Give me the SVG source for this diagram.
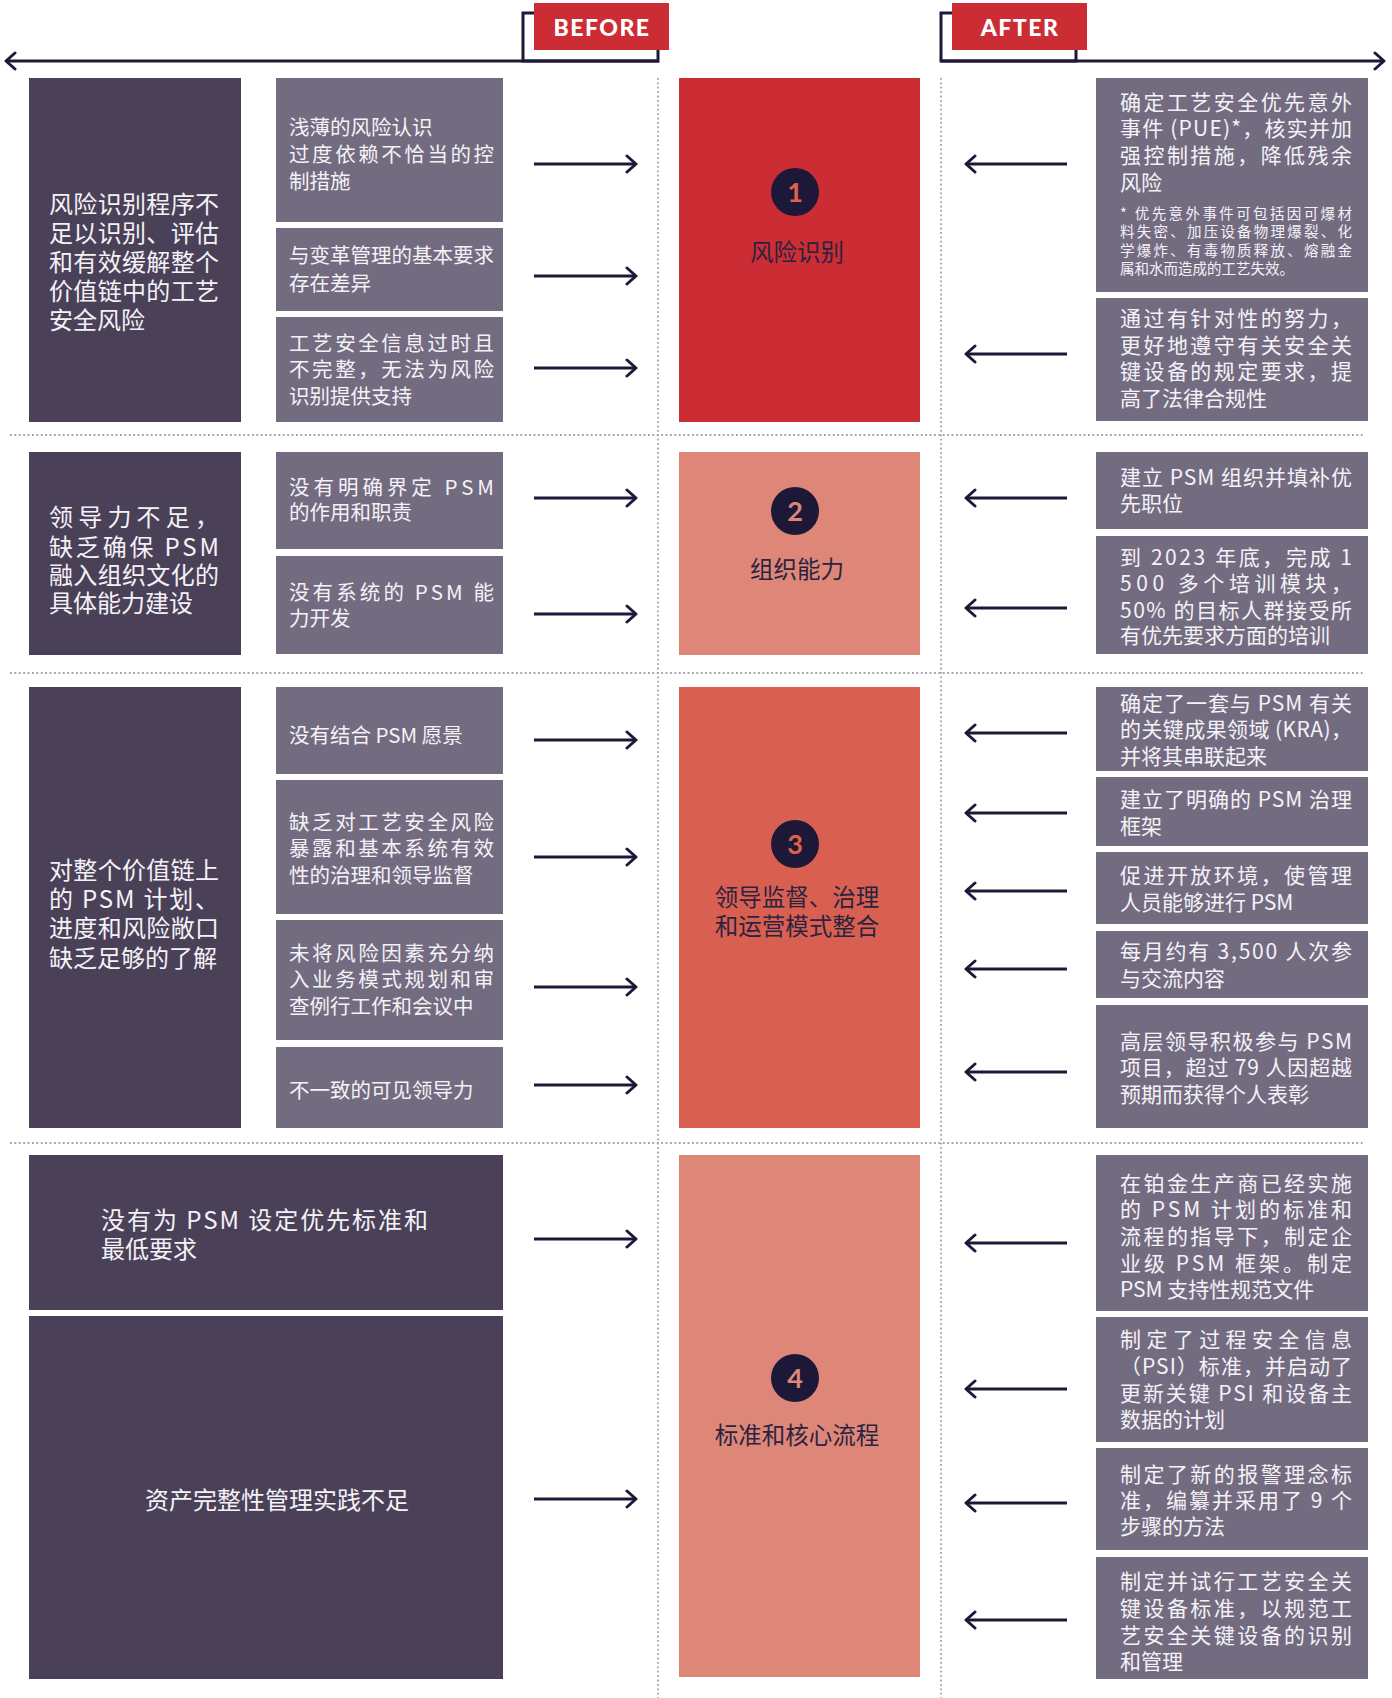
<svg xmlns="http://www.w3.org/2000/svg" width="1392" height="1698" viewBox="0 0 1392 1698">
<style>
text{font-family:"Noto Sans CJK SC","Noto Sans",sans-serif;}
.dark{fill:#4a4159;}
.gray{fill:#736c81;}
.wt{fill:#f4f2f6;}
.lt{font-size:24px;}
.mt{font-size:20.5px;}
.rt{font-size:21px;}
.ft{font-size:14.5px;}
.lbl{font-size:23.5px;fill:#2a2340;text-anchor:middle;}
.num{font-family:Lato,"Liberation Sans",sans-serif;font-weight:700;font-size:27px;text-anchor:middle;}
.tag{font-family:Lato,"Liberation Sans",sans-serif;font-weight:900;font-size:23px;fill:#ffffff;text-anchor:middle;letter-spacing:1.5px;}
.dot{stroke:#a3a3a8;stroke-width:1.8;stroke-dasharray:1.8 2.6;fill:none;}
.arr{stroke:#1e1838;stroke-width:3;fill:none;marker-end:url(#ah);}
.frame{stroke:#1e1838;stroke-width:3;fill:none;}
</style>
<defs>
<marker id="ah" markerUnits="userSpaceOnUse" markerWidth="20" markerHeight="20" viewBox="-12 -10 14 20" refX="0" refY="0" orient="auto">
<path d="M-9,-8 L0,0 L-9,8" stroke="#1e1838" stroke-width="3" fill="none" stroke-linecap="round" stroke-linejoin="round"/>
</marker>
</defs>
<rect width="1392" height="1698" fill="#ffffff"/>

<!-- header -->
<g id="before-tag">
<line class="arr" x1="659" y1="61" x2="6" y2="61"/>
<rect class="frame" x="523" y="13" width="135" height="48"/>
<rect x="534" y="3" width="135" height="47" fill="#cc2d34"/>
<text class="tag" x="602" y="36">BEFORE</text>
</g>
<g id="after-tag">
<line class="arr" x1="941" y1="61" x2="1384" y2="61"/>
<rect class="frame" x="941" y="13" width="135" height="48"/>
<rect x="952" y="3" width="135" height="47" fill="#cc2d34"/>
<text class="tag" x="1020" y="36">AFTER</text>
</g>

<!-- dotted guides -->
<g id="guides">
<line class="dot" x1="658" y1="78" x2="658" y2="1698"/>
<line class="dot" x1="941" y1="78" x2="941" y2="1698"/>
<line class="dot" x1="10" y1="435" x2="1363" y2="435"/>
<line class="dot" x1="10" y1="673" x2="1363" y2="673"/>
<line class="dot" x1="10" y1="1143" x2="1363" y2="1143"/>
</g>

<!-- SECTION 1 -->
<g id="s1-left">
<rect class="dark" x="29" y="78" width="212" height="344"/>
<text class="wt lt"><tspan x="49" y="213" textLength="170" lengthAdjust="spacing">风险识别程序不</tspan><tspan x="49" y="242" textLength="170" lengthAdjust="spacing">足以识别、评估</tspan><tspan x="49" y="271" textLength="170" lengthAdjust="spacing">和有效缓解整个</tspan><tspan x="49" y="300" textLength="170" lengthAdjust="spacing">价值链中的工艺</tspan><tspan x="49" y="329">安全风险</tspan></text>
</g>
<g id="s1-m1">
<rect class="gray" x="276" y="78" width="227" height="144"/>
<text class="wt mt"><tspan x="289" y="135">浅薄的风险认识</tspan><tspan x="289" y="162" textLength="205" lengthAdjust="spacing">过度依赖不恰当的控</tspan><tspan x="289" y="189">制措施</tspan></text>
</g>
<g id="s1-m2">
<rect class="gray" x="276" y="228" width="227" height="83"/>
<text class="wt mt"><tspan x="289" y="263" textLength="205" lengthAdjust="spacing">与变革管理的基本要求</tspan><tspan x="289" y="291">存在差异</tspan></text>
</g>
<g id="s1-m3">
<rect class="gray" x="276" y="317" width="227" height="105"/>
<text class="wt mt"><tspan x="289" y="351" textLength="205" lengthAdjust="spacing">工艺安全信息过时且</tspan><tspan x="289" y="377" textLength="205" lengthAdjust="spacing">不完整，无法为风险</tspan><tspan x="289" y="404">识别提供支持</tspan></text>
</g>
<g id="s1-center">
<rect x="679" y="78" width="241" height="344" fill="#cc2d34"/>
<circle cx="795" cy="192" r="24" fill="#1e1838"/>
<text class="num" x="795" y="202" fill="#e0604c">1</text>
<text class="lbl" x="797" y="261">风险识别</text>
</g>
<g id="s1-r1">
<rect class="gray" x="1096" y="78" width="272" height="214"/>
<text class="wt rt"><tspan x="1120" y="110" textLength="232" lengthAdjust="spacing">确定工艺安全优先意外</tspan><tspan x="1120" y="136" textLength="232" lengthAdjust="spacing">事件 (PUE)*，核实并加</tspan><tspan x="1120" y="163" textLength="232" lengthAdjust="spacing">强控制措施，降低残余</tspan><tspan x="1120" y="190">风险</tspan></text>
<text class="wt ft"><tspan x="1120" y="219" textLength="232" lengthAdjust="spacing">* 优先意外事件可包括因可爆材</tspan><tspan x="1120" y="237" textLength="232" lengthAdjust="spacing">料失密、加压设备物理爆裂、化</tspan><tspan x="1120" y="256" textLength="232" lengthAdjust="spacing">学爆炸、有毒物质释放、熔融金</tspan><tspan x="1120" y="274">属和水而造成的工艺失效。</tspan></text>
</g>
<g id="s1-r2">
<rect class="gray" x="1096" y="298" width="272" height="123"/>
<text class="wt rt"><tspan x="1120" y="326" textLength="232" lengthAdjust="spacing">通过有针对性的努力，</tspan><tspan x="1120" y="353" textLength="232" lengthAdjust="spacing">更好地遵守有关安全关</tspan><tspan x="1120" y="379" textLength="232" lengthAdjust="spacing">键设备的规定要求，提</tspan><tspan x="1120" y="406">高了法律合规性</tspan></text>
</g>

<!-- SECTION 2 -->
<g id="s2-left">
<rect class="dark" x="29" y="452" width="212" height="203"/>
<text class="wt lt"><tspan x="49" y="526" textLength="170" lengthAdjust="spacing">领导力不足，</tspan><tspan x="49" y="556" textLength="170" lengthAdjust="spacing">缺乏确保 PSM</tspan><tspan x="49" y="584" textLength="170" lengthAdjust="spacing">融入组织文化的</tspan><tspan x="49" y="612">具体能力建设</tspan></text>
</g>
<g id="s2-m1">
<rect class="gray" x="276" y="452" width="227" height="97"/>
<text class="wt mt"><tspan x="289" y="495" textLength="205" lengthAdjust="spacing">没有明确界定 PSM</tspan><tspan x="289" y="520">的作用和职责</tspan></text>
</g>
<g id="s2-m2">
<rect class="gray" x="276" y="556" width="227" height="98"/>
<text class="wt mt"><tspan x="289" y="600" textLength="205" lengthAdjust="spacing">没有系统的 PSM 能</tspan><tspan x="289" y="626">力开发</tspan></text>
</g>
<g id="s2-center">
<rect x="679" y="452" width="241" height="203" fill="#de8779"/>
<circle cx="795" cy="511" r="24" fill="#1e1838"/>
<text class="num" x="795" y="521" fill="#de8779">2</text>
<text class="lbl" x="797" y="578">组织能力</text>
</g>
<g id="s2-r1">
<rect class="gray" x="1096" y="452" width="272" height="77"/>
<text class="wt rt"><tspan x="1120" y="485" textLength="232" lengthAdjust="spacing">建立 PSM 组织并填补优</tspan><tspan x="1120" y="511">先职位</tspan></text>
</g>
<g id="s2-r2">
<rect class="gray" x="1096" y="536" width="272" height="118"/>
<text class="wt rt"><tspan x="1120" y="565" textLength="232" lengthAdjust="spacing">到 2023 年底，完成 1</tspan><tspan x="1120" y="591" textLength="232" lengthAdjust="spacing">500 多个培训模块，</tspan><tspan x="1120" y="618" textLength="232" lengthAdjust="spacing">50% 的目标人群接受所</tspan><tspan x="1120" y="643">有优先要求方面的培训</tspan></text>
</g>

<!-- SECTION 3 -->
<g id="s3-left">
<rect class="dark" x="29" y="687" width="212" height="441"/>
<text class="wt lt"><tspan x="49" y="879" textLength="170" lengthAdjust="spacing">对整个价值链上</tspan><tspan x="49" y="908" textLength="170" lengthAdjust="spacing">的 PSM 计划、</tspan><tspan x="49" y="937" textLength="170" lengthAdjust="spacing">进度和风险敞口</tspan><tspan x="49" y="967">缺乏足够的了解</tspan></text>
</g>
<g id="s3-m1">
<rect class="gray" x="276" y="687" width="227" height="87"/>
<text class="wt mt"><tspan x="289" y="743">没有结合 PSM 愿景</tspan></text>
</g>
<g id="s3-m2">
<rect class="gray" x="276" y="780" width="227" height="134"/>
<text class="wt mt"><tspan x="289" y="830" textLength="205" lengthAdjust="spacing">缺乏对工艺安全风险</tspan><tspan x="289" y="856" textLength="205" lengthAdjust="spacing">暴露和基本系统有效</tspan><tspan x="289" y="883">性的治理和领导监督</tspan></text>
</g>
<g id="s3-m3">
<rect class="gray" x="276" y="920" width="227" height="120"/>
<text class="wt mt"><tspan x="289" y="961" textLength="205" lengthAdjust="spacing">未将风险因素充分纳</tspan><tspan x="289" y="987" textLength="205" lengthAdjust="spacing">入业务模式规划和审</tspan><tspan x="289" y="1014">查例行工作和会议中</tspan></text>
</g>
<g id="s3-m4">
<rect class="gray" x="276" y="1047" width="227" height="81"/>
<text class="wt mt"><tspan x="289" y="1098">不一致的可见领导力</tspan></text>
</g>
<g id="s3-center">
<rect x="679" y="687" width="241" height="441" fill="#d96050"/>
<circle cx="795" cy="844" r="24" fill="#1e1838"/>
<text class="num" x="795" y="854" fill="#e0604c">3</text>
<text class="lbl"><tspan x="797" y="906">领导监督、治理</tspan><tspan x="797" y="935">和运营模式整合</tspan></text>
</g>
<g id="s3-r1">
<rect class="gray" x="1096" y="687" width="272" height="84"/>
<text class="wt rt"><tspan x="1120" y="711" textLength="232" lengthAdjust="spacing">确定了一套与 PSM 有关</tspan><tspan x="1120" y="737" textLength="232" lengthAdjust="spacing">的关键成果领域 (KRA)，</tspan><tspan x="1120" y="764">并将其串联起来</tspan></text>
</g>
<g id="s3-r2">
<rect class="gray" x="1096" y="777" width="272" height="69"/>
<text class="wt rt"><tspan x="1120" y="807" textLength="232" lengthAdjust="spacing">建立了明确的 PSM 治理</tspan><tspan x="1120" y="834">框架</tspan></text>
</g>
<g id="s3-r3">
<rect class="gray" x="1096" y="852" width="272" height="72"/>
<text class="wt rt"><tspan x="1120" y="883" textLength="232" lengthAdjust="spacing">促进开放环境，使管理</tspan><tspan x="1120" y="910">人员能够进行 PSM</tspan></text>
</g>
<g id="s3-r4">
<rect class="gray" x="1096" y="931" width="272" height="67"/>
<text class="wt rt"><tspan x="1120" y="959" textLength="232" lengthAdjust="spacing">每月约有 3,500 人次参</tspan><tspan x="1120" y="986">与交流内容</tspan></text>
</g>
<g id="s3-r5">
<rect class="gray" x="1096" y="1005" width="272" height="123"/>
<text class="wt rt"><tspan x="1120" y="1049" textLength="232" lengthAdjust="spacing">高层领导积极参与 PSM</tspan><tspan x="1120" y="1075" textLength="232" lengthAdjust="spacing">项目，超过 79 人因超越</tspan><tspan x="1120" y="1102">预期而获得个人表彰</tspan></text>
</g>

<!-- SECTION 4 -->
<g id="s4-left1">
<rect class="dark" x="29" y="1155" width="474" height="155"/>
<text class="wt lt"><tspan x="101" y="1229" textLength="327" lengthAdjust="spacing">没有为 PSM 设定优先标准和</tspan><tspan x="101" y="1258">最低要求</tspan></text>
</g>
<g id="s4-left2">
<rect class="dark" x="29" y="1316" width="474" height="363"/>
<text class="wt lt" x="145" y="1509">资产完整性管理实践不足</text>
</g>
<g id="s4-center">
<rect x="679" y="1155" width="241" height="522" fill="#de8779"/>
<circle cx="795" cy="1378" r="24" fill="#1e1838"/>
<text class="num" x="795" y="1388" fill="#de8779">4</text>
<text class="lbl" x="797" y="1444">标准和核心流程</text>
</g>
<g id="s4-r1">
<rect class="gray" x="1096" y="1155" width="272" height="156"/>
<text class="wt rt"><tspan x="1120" y="1191" textLength="232" lengthAdjust="spacing">在铂金生产商已经实施</tspan><tspan x="1120" y="1217" textLength="232" lengthAdjust="spacing">的 PSM 计划的标准和</tspan><tspan x="1120" y="1244" textLength="232" lengthAdjust="spacing">流程的指导下，制定企</tspan><tspan x="1120" y="1271" textLength="232" lengthAdjust="spacing">业级 PSM 框架。制定</tspan><tspan x="1120" y="1297">PSM 支持性规范文件</tspan></text>
</g>
<g id="s4-r2">
<rect class="gray" x="1096" y="1317" width="272" height="125"/>
<text class="wt rt"><tspan x="1120" y="1347" textLength="232" lengthAdjust="spacing">制定了过程安全信息</tspan><tspan x="1120" y="1374" textLength="232" lengthAdjust="spacing">（PSI）标准，并启动了</tspan><tspan x="1120" y="1401" textLength="232" lengthAdjust="spacing">更新关键 PSI 和设备主</tspan><tspan x="1120" y="1427">数据的计划</tspan></text>
</g>
<g id="s4-r3">
<rect class="gray" x="1096" y="1448" width="272" height="102"/>
<text class="wt rt"><tspan x="1120" y="1482" textLength="232" lengthAdjust="spacing">制定了新的报警理念标</tspan><tspan x="1120" y="1508" textLength="232" lengthAdjust="spacing">准，编纂并采用了 9 个</tspan><tspan x="1120" y="1534">步骤的方法</tspan></text>
</g>
<g id="s4-r4">
<rect class="gray" x="1096" y="1557" width="272" height="122"/>
<text class="wt rt"><tspan x="1120" y="1589" textLength="232" lengthAdjust="spacing">制定并试行工艺安全关</tspan><tspan x="1120" y="1616" textLength="232" lengthAdjust="spacing">键设备标准，以规范工</tspan><tspan x="1120" y="1643" textLength="232" lengthAdjust="spacing">艺安全关键设备的识别</tspan><tspan x="1120" y="1669">和管理</tspan></text>
</g>

<!-- connectors -->
<g id="connectors">
<line class="arr" x1="534" y1="164" x2="636" y2="164"/>
<line class="arr" x1="534" y1="276" x2="636" y2="276"/>
<line class="arr" x1="534" y1="368" x2="636" y2="368"/>
<line class="arr" x1="1067" y1="164" x2="966" y2="164"/>
<line class="arr" x1="1067" y1="354" x2="966" y2="354"/>
<line class="arr" x1="534" y1="498" x2="636" y2="498"/>
<line class="arr" x1="534" y1="614" x2="636" y2="614"/>
<line class="arr" x1="1067" y1="498" x2="966" y2="498"/>
<line class="arr" x1="1067" y1="608" x2="966" y2="608"/>
<line class="arr" x1="534" y1="740" x2="636" y2="740"/>
<line class="arr" x1="534" y1="857" x2="636" y2="857"/>
<line class="arr" x1="534" y1="987" x2="636" y2="987"/>
<line class="arr" x1="534" y1="1085" x2="636" y2="1085"/>
<line class="arr" x1="1067" y1="733" x2="966" y2="733"/>
<line class="arr" x1="1067" y1="813" x2="966" y2="813"/>
<line class="arr" x1="1067" y1="891" x2="966" y2="891"/>
<line class="arr" x1="1067" y1="969" x2="966" y2="969"/>
<line class="arr" x1="1067" y1="1072" x2="966" y2="1072"/>
<line class="arr" x1="534" y1="1239" x2="636" y2="1239"/>
<line class="arr" x1="534" y1="1499" x2="636" y2="1499"/>
<line class="arr" x1="1067" y1="1243" x2="966" y2="1243"/>
<line class="arr" x1="1067" y1="1389" x2="966" y2="1389"/>
<line class="arr" x1="1067" y1="1503" x2="966" y2="1503"/>
<line class="arr" x1="1067" y1="1620" x2="966" y2="1620"/>
</g>
</svg>
